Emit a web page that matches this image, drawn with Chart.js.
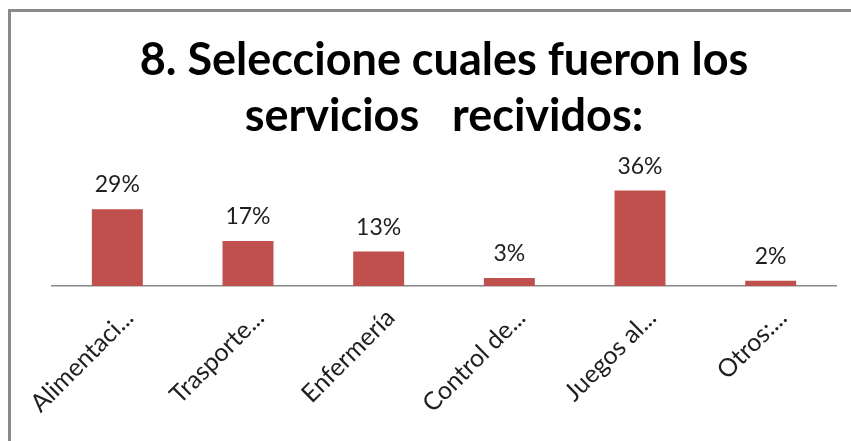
<!DOCTYPE html>
<html>
<head>
<meta charset="utf-8">
<script src="https://cdn.jsdelivr.net/npm/chart.js@4.4.1/dist/chart.umd.min.js"></script>
<style>
    html, body { margin: 0; padding: 0; background: #fff; overflow: hidden; }
    .frame {
        position: absolute;
        left: 8px;
        top: 9px;
        width: 900px;
        height: 500px;
        border-top: 3px solid #8a8a8a;
        border-left: 3px solid #8a8a8a;
    }
    #chart { position: absolute; left: 0; top: 0; }
</style>
</head>
<body>
<div class="frame"></div>
<canvas id="chart" width="851" height="441"></canvas>
<script>
// Chart data
const categories = ['Alimentaci...', 'Trasporte...', 'Enfermería', 'Control de...', 'Juegos al...', 'Otros:...'];
const percentages = [29, 17, 13, 3, 36, 2];
const titleLines = ['8. Seleccione cuales fueron los', 'servicios   recividos:'];

const barColor = '#C0504D';
const textColor = '#1f1f1f';

// Draws the "xx%" labels above each bar
const valueLabels = {
    id: 'valueLabels',
    afterDatasetsDraw(chart) {
        const ctx = chart.ctx;
        const meta = chart.getDatasetMeta(0);
        ctx.save();
        ctx.font = '23px Lato';
        ctx.fillStyle = textColor;
        ctx.textAlign = 'center';
        ctx.textBaseline = 'alphabetic';
        meta.data.forEach((bar, i) => {
            ctx.fillText(percentages[i] + '%', bar.x, bar.y - 17);
        });
        ctx.restore();
    }
};

new Chart(document.getElementById('chart'), {
    type: 'bar',
    data: {
        labels: categories,
        datasets: [{
            data: percentages,
            backgroundColor: barColor,
            barPercentage: 0.39,
            categoryPercentage: 1
        }]
    },
    options: {
        responsive: false,
        animation: false,
        layout: {
            padding: { left: 52, right: 15, top: 0, bottom: 0 }
        },
        plugins: {
            legend: { display: false },
            tooltip: { enabled: false },
            title: {
                display: true,
                text: titleLines,
                color: '#000',
                font: { family: 'Lato', size: 45, weight: 'bold', lineHeight: '56px' },
                padding: { top: 32, bottom: 36 }
            }
        },
        scales: {
            x: {
                grid: { display: false, drawTicks: false },
                border: { display: true, color: '#888', width: 1.5 },
                ticks: {
                    color: textColor,
                    font: { family: 'Lato', size: 25 },
                    minRotation: 45,
                    maxRotation: 45,
                    autoSkip: false,
                    padding: 17,
                    labelOffset: 12
                },
                afterFit(scale) {
                    scale.height = 155;
                }
            },
            y: {
                display: false,
                min: 0,
                max: 40
            }
        }
    },
    plugins: [valueLabels]
});
</script>
</body>
</html>
